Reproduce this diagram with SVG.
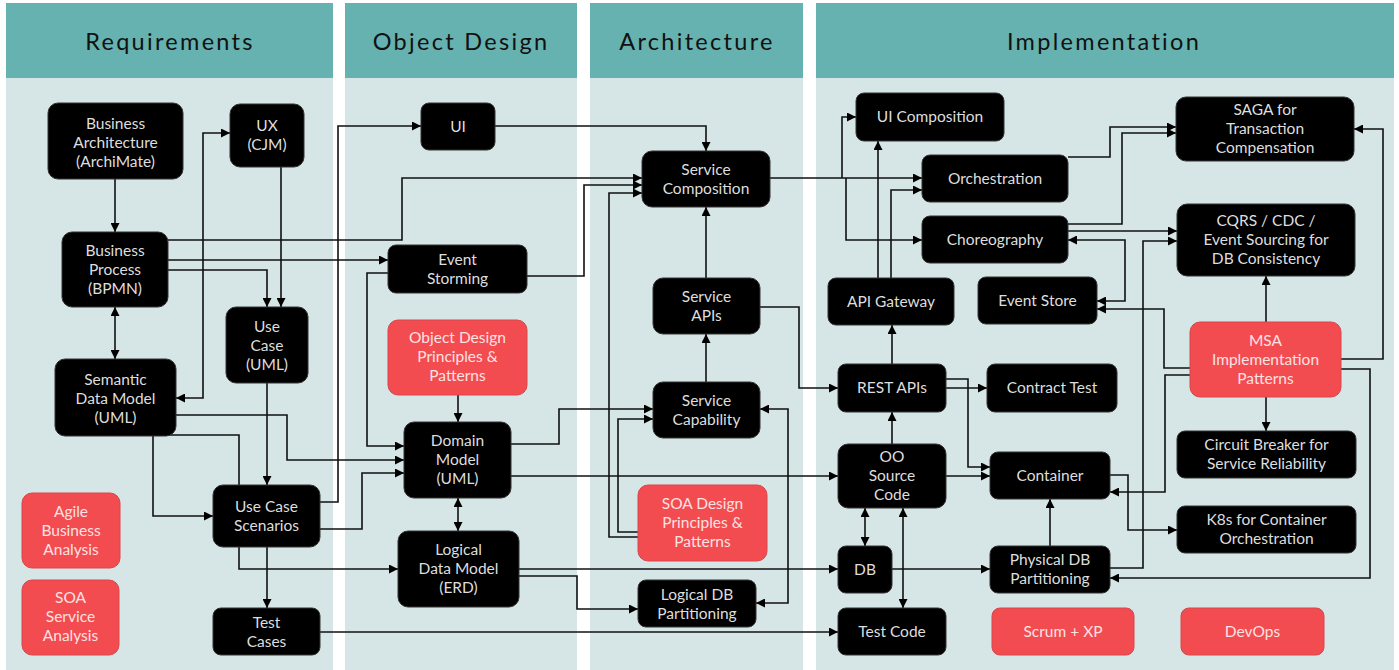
<svg xmlns="http://www.w3.org/2000/svg" width="1399" height="670" viewBox="0 0 1399 670">
<style>
.hdr{fill:#66b2b0}
.body{fill:#d6e6e6}
.ht{font-family:Lato,"Noto Sans",sans-serif;font-size:23.5px;letter-spacing:2.3px;fill:#111;text-anchor:middle}
.n rect{fill:#000;stroke:#333;stroke-width:1}
.n text{font-family:Lato,"Noto Sans",sans-serif;font-size:15.5px;fill:#dedede;text-anchor:middle}
.r rect{fill:#f24b50;stroke:#d8464b;stroke-width:1}
.r text{font-family:Lato,"Noto Sans",sans-serif;font-size:15.5px;fill:#fde2e2;text-anchor:middle}
.c path{fill:none;stroke:#111;stroke-width:1.6}
.e{marker-end:url(#a)}
.b{marker-end:url(#a);marker-start:url(#a)}
</style>
<defs>
<marker id="a" viewBox="0 0 10 10" refX="10" refY="5" markerWidth="9" markerHeight="9" markerUnits="userSpaceOnUse" orient="auto-start-reverse"><path d="M0,0 L10,5 L0,10 z" fill="#000"/></marker>
</defs>
<rect width="1399" height="670" fill="#fff"/>
<g id="columns">
<rect class="body" x="6" y="78" width="327" height="592"/>
<rect class="hdr" x="6" y="3" width="327" height="75"/>
<text class="ht" x="170" y="50">Requirements</text>
<rect class="body" x="345" y="78" width="232" height="592"/>
<rect class="hdr" x="345" y="3" width="232" height="75"/>
<text class="ht" x="461" y="50">Object Design</text>
<rect class="body" x="590" y="78" width="213" height="592"/>
<rect class="hdr" x="590" y="3" width="213" height="75"/>
<text class="ht" x="697" y="50">Architecture</text>
<rect class="body" x="816" y="78" width="578" height="592"/>
<rect class="hdr" x="816" y="3" width="578" height="75"/>
<text class="ht" x="1104" y="50">Implementation</text>
</g>
<g id="connectors" class="c">
<path class="e" d="M115 179 V232"/>
<path class="b" d="M115 307 V359"/>
<path class="e" d="M281 167 V307"/>
<path class="e" d="M168 270 H267 V307"/>
<path class="b" d="M176 398 H203 V133 H230"/>
<path class="e" d="M176 415 H287 V460 H404"/>
<path class="e" d="M320 502 H338 V126 H421"/>
<path class="e" d="M153 436 V516 H213"/>
<path class="e" d="M267 383 V485"/>
<path class="e" d="M153 435 H239 V569 H398"/>
<path class="e" d="M267 547 V608"/>
<path class="e" d="M320 632 H838"/>
<path class="e" d="M168 240 H402 V178 H642"/>
<path class="e" d="M168 260 H388"/>
<path class="e" d="M388 273 H367 V446 H404"/>
<path class="e" d="M320 529 H362 V473 H404"/>
<path class="e" d="M527 276 H584 V185 H642"/>
<path class="e" d="M638 537 H609 V193 H642"/>
<path class="e" d="M638 532 H618 V419 H653"/>
<path class="e" d="M495 126 H706 V151"/>
<path class="e" d="M706 278 V207"/>
<path class="e" d="M706 382 V334"/>
<path class="e" d="M511 444 H559 V409 H653"/>
<path class="e" d="M511 476 H838"/>
<path class="b" d="M458 498 V531"/>
<path class="e" d="M458 395 V422"/>
<path class="e" d="M519 569 H838"/>
<path class="e" d="M519 576 H577 V609 H638"/>
<path class="b" d="M760 409 H788 V603 H756"/>
<path class="e" d="M760 307 H799 V388 H838"/>
<path class="e" d="M770 178 H922"/>
<path class="e" d="M842 178 V117 H856"/>
<path class="e" d="M846 178 V240 H922"/>
<path class="e" d="M878 278 V141"/>
<path class="e" d="M891 278 V190 H922"/>
<path class="e" d="M892 364 V325"/>
<path class="e" d="M892 444 V412"/>
<path class="e" d="M946 379 H968 V467 H990"/>
<path class="e" d="M946 388 H987"/>
<path class="e" d="M946 476 H990"/>
<path class="b" d="M865 508 V546"/>
<path class="b" d="M903 508 V608"/>
<path class="e" d="M892 569 H990"/>
<path class="e" d="M1050 546 V499"/>
<path class="e" d="M1110 475 H1128 V530 H1177"/>
<path class="e" d="M1190 375 H1165 V492 H1110"/>
<path class="e" d="M1341 369 H1370 V578 H1110"/>
<path class="e" d="M1341 359 H1383 V129 H1354"/>
<path class="e" d="M1266 322 V276"/>
<path class="e" d="M1266 397 V431"/>
<path class="e" d="M1068 157 H1110 V127 H1176"/>
<path class="e" d="M1068 224 H1122 V133 H1176"/>
<path class="e" d="M1068 231 H1177"/>
<path class="b" d="M1068 240 H1125 V301 H1097"/>
<path class="e" d="M1110 568 H1143 V241 H1177"/>
<path class="e" d="M1190 368 H1164 V309 H1097"/>
</g>
<g id="ba" class="n"><rect x="48" y="103" width="135" height="76" rx="10"/><text x="115.5" y="129">Business</text><text x="115.5" y="148">Architecture</text><text x="115.5" y="167">(ArchiMate)</text></g>
<g id="ux" class="n"><rect x="230" y="104" width="74" height="63" rx="10"/><text x="267" y="131">UX</text><text x="267" y="150">(CJM)</text></g>
<g id="bp" class="n"><rect x="62" y="232" width="106" height="75" rx="10"/><text x="115" y="256">Business</text><text x="115" y="275">Process</text><text x="115" y="294">(BPMN)</text></g>
<g id="uc" class="n"><rect x="226" y="307" width="82" height="76" rx="10"/><text x="267" y="332">Use</text><text x="267" y="351">Case</text><text x="267" y="370">(UML)</text></g>
<g id="sdm" class="n"><rect x="55" y="359" width="121" height="77" rx="10"/><text x="115.5" y="385">Semantic</text><text x="115.5" y="404">Data Model</text><text x="115.5" y="423">(UML)</text></g>
<g id="ucs" class="n"><rect x="213" y="485" width="107" height="62" rx="10"/><text x="266.5" y="512">Use Case</text><text x="266.5" y="531">Scenarios</text></g>
<g id="tc" class="n"><rect x="213" y="608" width="107" height="47" rx="8"/><text x="266.5" y="628">Test</text><text x="266.5" y="647">Cases</text></g>
<g id="aba" class="r"><rect x="22" y="493" width="98" height="75" rx="10"/><text x="71" y="517">Agile</text><text x="71" y="536">Business</text><text x="71" y="555">Analysis</text></g>
<g id="ssa" class="r"><rect x="22" y="580" width="97" height="75" rx="10"/><text x="70.5" y="603">SOA</text><text x="70.5" y="622">Service</text><text x="70.5" y="641">Analysis</text></g>
<g id="ui" class="n"><rect x="421" y="103" width="74" height="47" rx="8"/><text x="458" y="132">UI</text></g>
<g id="es" class="n"><rect x="388" y="245" width="139" height="48" rx="8"/><text x="457.5" y="265">Event</text><text x="457.5" y="284">Storming</text></g>
<g id="odp" class="r"><rect x="388" y="320" width="139" height="75" rx="10"/><text x="457.5" y="343">Object Design</text><text x="457.5" y="362">Principles &amp;</text><text x="457.5" y="381">Patterns</text></g>
<g id="dm" class="n"><rect x="404" y="422" width="107" height="76" rx="10"/><text x="457.5" y="446">Domain</text><text x="457.5" y="465">Model</text><text x="457.5" y="484">(UML)</text></g>
<g id="ldm" class="n"><rect x="398" y="531" width="121" height="76" rx="10"/><text x="458.5" y="555">Logical</text><text x="458.5" y="574">Data Model</text><text x="458.5" y="593">(ERD)</text></g>
<g id="sc" class="n"><rect x="642" y="151" width="128" height="56" rx="10"/><text x="706" y="175">Service</text><text x="706" y="194">Composition</text></g>
<g id="sa" class="n"><rect x="653" y="278" width="107" height="56" rx="10"/><text x="706.5" y="302">Service</text><text x="706.5" y="321">APIs</text></g>
<g id="scap" class="n"><rect x="653" y="382" width="107" height="56" rx="10"/><text x="706.5" y="406">Service</text><text x="706.5" y="425">Capability</text></g>
<g id="soad" class="r"><rect x="638" y="485" width="129" height="76" rx="10"/><text x="702.5" y="509">SOA Design</text><text x="702.5" y="528">Principles &amp;</text><text x="702.5" y="547">Patterns</text></g>
<g id="ldbp" class="n"><rect x="638" y="580" width="118" height="47" rx="8"/><text x="697" y="600">Logical DB</text><text x="697" y="619">Partitioning</text></g>
<g id="uic" class="n"><rect x="856" y="93" width="148" height="48" rx="8"/><text x="930" y="122">UI Composition</text></g>
<g id="orch" class="n"><rect x="922" y="155" width="146" height="47" rx="8"/><text x="995" y="184">Orchestration</text></g>
<g id="chor" class="n"><rect x="922" y="216" width="146" height="47" rx="8"/><text x="995" y="245">Choreography</text></g>
<g id="apig" class="n"><rect x="828" y="278" width="126" height="47" rx="8"/><text x="891" y="307">API Gateway</text></g>
<g id="evs" class="n"><rect x="978" y="277" width="119" height="47" rx="8"/><text x="1037.5" y="306">Event Store</text></g>
<g id="saga" class="n"><rect x="1176" y="97" width="178" height="64" rx="10"/><text x="1265" y="115">SAGA for</text><text x="1265" y="134">Transaction</text><text x="1265" y="153">Compensation</text></g>
<g id="cqrs" class="n"><rect x="1177" y="204" width="178" height="72" rx="10"/><text x="1266" y="226">CQRS / CDC /</text><text x="1266" y="245">Event Sourcing  for</text><text x="1266" y="264">DB Consistency</text></g>
<g id="msa" class="r"><rect x="1190" y="322" width="151" height="75" rx="10"/><text x="1265.5" y="346">MSA</text><text x="1265.5" y="365">Implementation</text><text x="1265.5" y="384">Patterns</text></g>
<g id="cb" class="n"><rect x="1177" y="431" width="179" height="47" rx="8"/><text x="1266.5" y="450">Circuit Breaker for</text><text x="1266.5" y="469">Service Reliability</text></g>
<g id="k8s" class="n"><rect x="1177" y="506" width="179" height="47" rx="8"/><text x="1266.5" y="525">K8s for Container</text><text x="1266.5" y="544">Orchestration</text></g>
<g id="devops" class="r"><rect x="1181" y="608" width="143" height="47" rx="8"/><text x="1252.5" y="637">DevOps</text></g>
<g id="rest" class="n"><rect x="838" y="364" width="108" height="48" rx="8"/><text x="892" y="393">REST APIs</text></g>
<g id="ct" class="n"><rect x="987" y="364" width="130" height="48" rx="8"/><text x="1052" y="393">Contract Test</text></g>
<g id="oo" class="n"><rect x="838" y="444" width="108" height="64" rx="10"/><text x="892" y="462">OO</text><text x="892" y="481">Source</text><text x="892" y="500">Code</text></g>
<g id="cont" class="n"><rect x="990" y="452" width="120" height="47" rx="8"/><text x="1050" y="481">Container</text></g>
<g id="db" class="n"><rect x="838" y="546" width="54" height="47" rx="8"/><text x="865" y="575">DB</text></g>
<g id="pdb" class="n"><rect x="990" y="546" width="120" height="47" rx="8"/><text x="1050" y="565">Physical DB</text><text x="1050" y="584">Partitioning</text></g>
<g id="tcode" class="n"><rect x="838" y="608" width="108" height="47" rx="8"/><text x="892" y="637">Test Code</text></g>
<g id="scrum" class="r"><rect x="992" y="608" width="142" height="47" rx="8"/><text x="1063" y="637">Scrum + XP</text></g>
</svg>
